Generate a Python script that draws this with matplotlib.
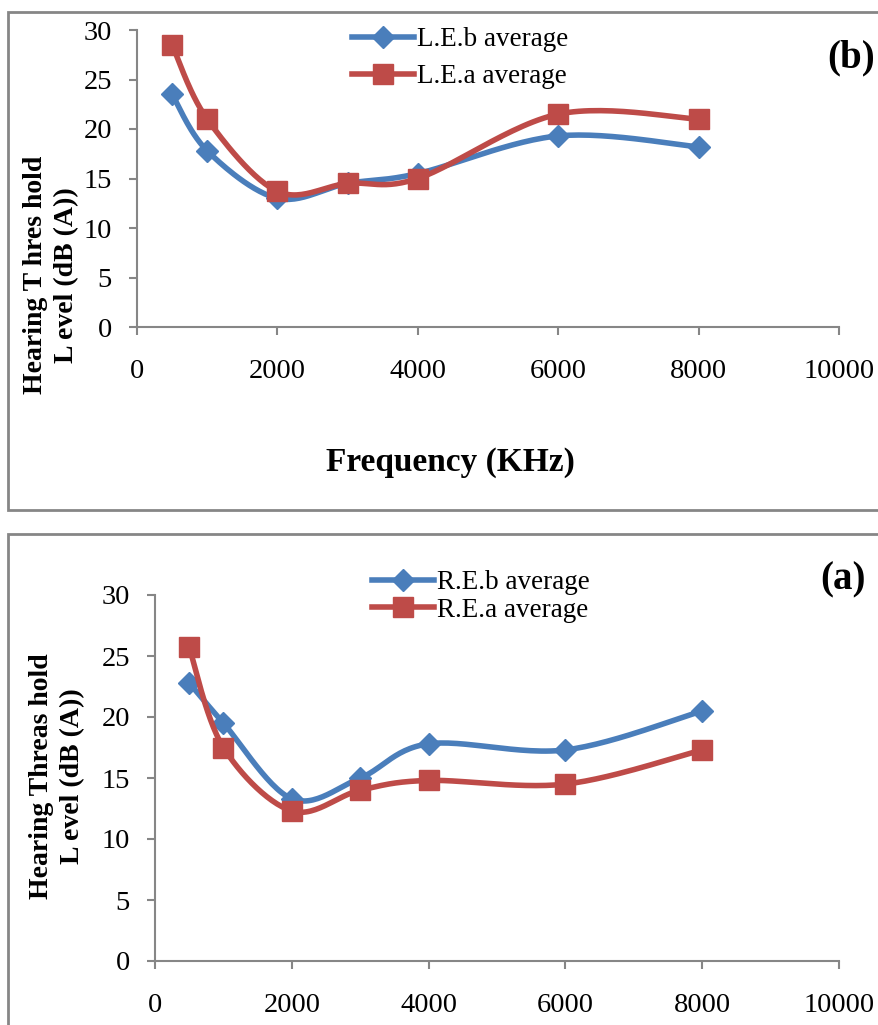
import numpy as np
import matplotlib
matplotlib.use("Agg")
import matplotlib.pyplot as plt
from matplotlib.patches import Rectangle
from matplotlib.lines import Line2D

plt.rcParams['font.family'] = ['Liberation Serif', 'DejaVu Serif']

# data
freq = [500, 1000, 2000, 3000, 4000, 6000, 8000]
le_before = [23.5, 17.8, 13.0, 14.5, 15.5, 19.3, 18.2]
le_after = [28.5, 21.0, 13.7, 14.5, 15.0, 21.5, 21.0]
re_before = [22.8, 19.5, 13.3, 15.0, 17.8, 17.3, 20.5]
re_after = [25.7, 17.5, 12.3, 14.0, 14.8, 14.5, 17.3]
xticks = [0, 2000, 4000, 6000, 8000, 10000]
yticks = [0, 5, 10, 15, 20, 25, 30]

BLUE = '#4A7EBB'
RED = '#BE4B48'
GREY = '#868686'

W, H = 879, 1025
fig = plt.figure(figsize=(W / 100, H / 100), dpi=100)


def px_axes(x0, y0, x1, y1):
    # pixel box (top-left origin) -> figure axes
    return fig.add_axes([x0 / W, 1 - y1 / H, (x1 - x0) / W, (y1 - y0) / H])


def smooth(ax, xs, ys, n=30):
    # excel style smoothed line, computed in screen space
    pts = ax.transData.transform(np.column_stack([xs, ys]))
    out = []
    m = len(pts)
    for i in range(m - 1):
        p0 = pts[max(i - 1, 0)]
        p1 = pts[i]
        p2 = pts[i + 1]
        p3 = pts[min(i + 2, m - 1)]
        c1 = p1 + (p2 - p0) / 6.0
        c2 = p2 - (p3 - p1) / 6.0
        t = np.linspace(0, 1, n)[:, None]
        seg = ((1 - t) ** 3) * p1 + 3 * ((1 - t) ** 2) * t * c1 + 3 * (1 - t) * t ** 2 * c2 + t ** 3 * p2
        out.append(seg if i == 0 else seg[1:])
    out = np.vstack(out)
    return ax.transData.inverted().transform(out)


def setup(ax):
    ax.set_xlim(0, 10000)
    ax.set_ylim(0, 30)
    ax.set_xticks(xticks)
    ax.set_yticks(yticks)
    for s in ['top', 'right']:
        ax.spines[s].set_visible(False)
    for s in ['left', 'bottom']:
        ax.spines[s].set_color(GREY)
        ax.spines[s].set_linewidth(1.5)
    ax.tick_params(axis='x', direction='out', length=6, width=1.5, color=GREY,
                   labelsize=20.5, pad=17)
    ax.tick_params(axis='y', direction='out', length=6, width=1.5, color=GREY,
                   labelsize=20.5, pad=12)
    ax.patch.set_alpha(0)


def draw(ax, ys_b, ys_a):
    for ys, c, mk, ms in [(ys_b, BLUE, 'D', 11), (ys_a, RED, 's', 14)]:
        curve = smooth(ax, freq, ys)
        ax.plot(curve[:, 0], curve[:, 1], color=c, lw=4, solid_capstyle='round',
                clip_on=False)
        ax.plot(freq, ys, linestyle='none', marker=mk, ms=ms, color=c, clip_on=False)


def legend(ax, labels, x, y0, spacing):
    handles = [Line2D([], [], color=BLUE, lw=4, marker='D', ms=11),
               Line2D([], [], color=RED, lw=4, marker='s', ms=14)]
    ax.legend(handles, labels, loc='upper left', bbox_to_anchor=(x, y0),
              bbox_transform=fig.transFigure, frameon=False, fontsize=19.5,
              handlelength=2.3, handletextpad=0.1, labelspacing=spacing,
              borderaxespad=0, borderpad=0)


# panel frames
fig.patches.append(Rectangle((8 / W, 1 - 510 / H), (W - 8) / W, 498 / H,
                             transform=fig.transFigure, fill=False,
                             edgecolor=GREY, lw=2))
fig.patches.append(Rectangle((8 / W, -0.01), (W - 8) / W, 1 - 534 / H + 0.01,
                             transform=fig.transFigure, fill=False,
                             edgecolor=GREY, lw=2))

# top panel (b)
ax1 = px_axes(137, 30, 839, 327)
setup(ax1)
draw(ax1, le_before, le_after)
legend(ax1, ['L.E.b average', 'L.E.a average'], 352 / W, 1 - 27 / H, 0.45)
fig.text(450 / W, 1 - 462 / H, 'Frequency (KHz)', fontsize=24,
         fontweight='bold', ha='center', va='center')
fig.text(51 / W, 1 - 275 / H, 'Hearing T hres hold\nL evel (dB (A))',
         fontsize=20, fontweight='bold', rotation=90, ha='center', va='center',
         linespacing=1.35, multialignment='center')
fig.text(851 / W, 1 - 58 / H, '(b)', fontsize=28, fontweight='bold',
         ha='center', va='center')

# bottom panel (a)
ax2 = px_axes(155, 595, 839, 961)
setup(ax2)
draw(ax2, re_before, re_after)
legend(ax2, ['R.E.b average', 'R.E.a average'], 372 / W, 1 - 570 / H, 0.1)
fig.text(57 / W, 1 - 776 / H, 'Hearing Threas hold\nL evel (dB (A))',
         fontsize=20, fontweight='bold', rotation=90, ha='center', va='center',
         linespacing=1.35, multialignment='center')
fig.text(843 / W, 1 - 580 / H, '(a)', fontsize=28, fontweight='bold',
         ha='center', va='center')

fig.savefig('out.png', dpi=100)
